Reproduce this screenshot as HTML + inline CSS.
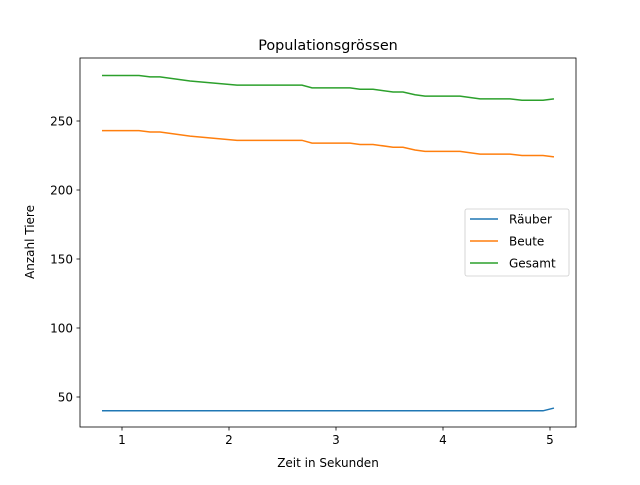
<!DOCTYPE html>
<html><head><meta charset="utf-8"><style>body{margin:0;background:#fff}svg text{font-family:"DejaVu Sans","Liberation Sans",sans-serif}</style></head>
<body>
<svg id="c" width="640" height="480" xmlns="http://www.w3.org/2000/svg"></svg>
<script>
const times=[0.813,1.159,1.262,1.355,1.636,2.075,2.682,2.776,3.131,3.224,3.346,3.533,3.626,3.738,3.832,4.159,4.346,4.626,4.738,4.935,5.037];
const gesamt=[283,283,282,282,279,276,276,274,274,273,273,271,271,269,268,268,266,266,265,265,266];
const beute=[243,243,242,242,239,236,236,234,234,233,233,231,231,229,228,228,226,226,225,225,224];
const raeuber=[40,40,40,40,40,40,40,40,40,40,40,40,40,40,40,40,40,40,40,40,42];
const xTicks=[1,2,3,4,5];
const yTicks=[50,100,150,200,250];
const NS="http://www.w3.org/2000/svg";
const svg=document.getElementById('c');
const L=80,R=576,T=58,B=427;
const xs=t=>122+(t-1)*107;
const ys=v=>397-(v-50)*1.38;
function mk(tag,at,txt){const e=document.createElementNS(NS,tag);for(const k in at)e.setAttribute(k,at[k]);if(txt!==undefined)e.textContent=txt;svg.appendChild(e);return e;}
let f=mk('rect',{x:L,y:T,width:R-L,height:B-T,fill:'none',stroke:'#000','stroke-width':0.8});


xTicks.forEach(t=>{const x=xs(t);
let l=mk('line',{x1:x,x2:x,y1:B,y2:B+3.5,stroke:'#000','stroke-width':0.8});


let s=mk('text',{x:x,y:B+17,'font-size':12,'text-anchor':'middle'},String(t));

});
yTicks.forEach(v=>{const y=ys(v);
let l=mk('line',{x1:L-3.5,x2:L,y1:y,y2:y,stroke:'#000','stroke-width':0.8});


let s=mk('text',{x:L-7,y:y+4.5,'font-size':12,'text-anchor':'end'},String(v));

});
const series=[[raeuber,'#1f77b4','raeuber-line'],[beute,'#ff7f0e','beute-line'],[gesamt,'#2ca02c','gesamt-line']];
series.forEach(([d,c,n])=>{
let p=mk('polyline',{points:d.map((v,i)=>xs(times[i])+','+ys(v)).join(' '),fill:'none',stroke:c,'stroke-width':1.5});

});
let t=mk('text',{x:328,y:50,'font-size':14.4,'text-anchor':'middle'},'Populationsgrössen');


let xl=mk('text',{x:328,y:467,'font-size':12,'text-anchor':'middle'},'Zeit in Sekunden');


let yl=mk('text',{x:34,y:242,'font-size':12,'text-anchor':'middle',transform:'rotate(-90 34 242)'},'Anzahl Tiere');


let lb=mk('rect',{x:465,y:209,width:104,height:67,rx:2,fill:'#fff','fill-opacity':0.8,stroke:'#ccc','stroke-width':0.8});


[['Räuber','#1f77b4'],['Beute','#ff7f0e'],['Gesamt','#2ca02c']].forEach(([n,c],i)=>{const y=219+i*22;
let l=mk('line',{x1:470,x2:498,y1:y,y2:y,stroke:c,'stroke-width':1.5});


let s=mk('text',{x:509,y:y+4.5,'font-size':12},n);

});
</script>
</body></html>
